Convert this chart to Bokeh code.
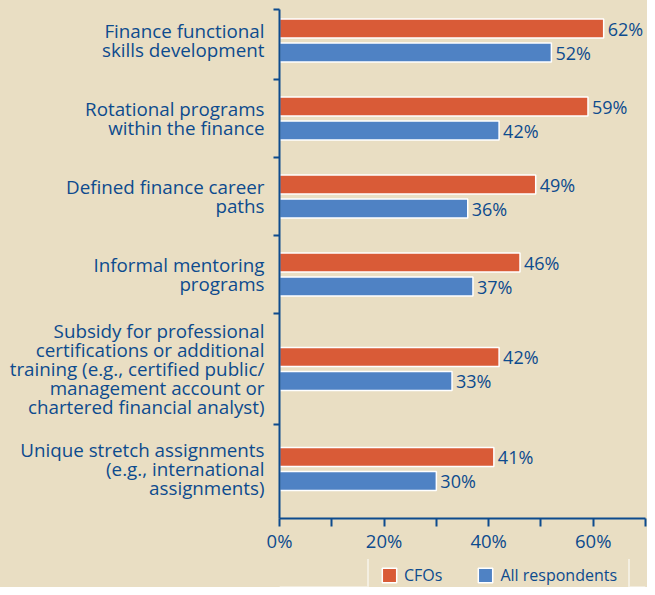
from bokeh.plotting import figure
from bokeh.models import (ColumnDataSource, Range1d, FixedTicker, LabelSet,
                          Legend, LegendItem)
from bokeh.layouts import column
from bokeh.core.properties import value
from bokeh.embed import file_html
from bokeh.resources import INLINE

# ---- data ----
categories = [
    "Finance functional\nskills development",
    "Rotational programs\nwithin the finance",
    "Defined finance career\npaths",
    "Informal mentoring\nprograms",
    "Subsidy for professional\ncertifications or additional\ntraining (e.g., certified public/\nmanagement account or\nchartered financial analyst)",
    "Unique stretch assignments\n(e.g., international\nassignments)",
]
cfo_values = [62, 59, 49, 46, 42, 41]
all_values = [52, 42, 36, 37, 33, 30]
x_ticks = [0, 20, 40, 60]
x_minor = [10, 30, 50, 70]
x_tick_labels = {0: "0%", 20: "20%", 40: "40%", 60: "60%"}
series_names = ["CFOs", "All respondents"]

# ---- style ----
BG = "#e9dec3"
ORANGE = "#d95b37"
BLUE = "#4f82c4"
TEXT = "#0d4b8e"
FONT = "Open Sans"

# ---- layout: row height grows with the number of label lines ----
lines = [c.count("\n") + 1 for c in categories]
row_h = [56 + 11 * n for n in lines]
tops = []
t = -8
for h in row_h:
    tops.append(t)
    t += h
centers = [tp + h / 2 for tp, h in zip(tops, row_h)]
BAR_OFF = 12
BAR_H = 19
Y_BOTTOM = 509

cfo_src = ColumnDataSource(dict(
    y=[c - BAR_OFF for c in centers], v=cfo_values,
    lab=[f"{v}%" for v in cfo_values]))
all_src = ColumnDataSource(dict(
    y=[c + BAR_OFF for c in centers], v=all_values,
    lab=[f"{v}%" for v in all_values]))

p = figure(width=647, height=559, output_backend="svg", toolbar_location=None,
           x_range=Range1d(0, 70), y_range=Range1d(Y_BOTTOM, 0),
           min_border_left=279, min_border_right=2, min_border_top=9,
           min_border_bottom=41, styles={"background-color": BG})
p.background_fill_color = BG
p.border_fill_color = BG
p.outline_line_color = None
p.grid.visible = False

r_cfo = p.hbar(y="y", right="v", left=0, height=BAR_H, source=cfo_src,
               fill_color=ORANGE, line_color="white", line_width=1.5)
r_all = p.hbar(y="y", right="v", left=0, height=BAR_H, source=all_src,
               fill_color=BLUE, line_color="white", line_width=1.5)

for src in (cfo_src, all_src):
    p.add_layout(LabelSet(x="v", y="y", text="lab", source=src, x_offset=4,
                          text_baseline="middle", text_align="left",
                          text_font=value(FONT), text_font_size="18px",
                          text_color=TEXT))

# x axis
xa = p.xaxis[0]
xa.ticker = FixedTicker(ticks=x_ticks, minor_ticks=x_minor)
xa.major_label_overrides = x_tick_labels
xa.axis_line_color = TEXT
xa.axis_line_width = 2
xa.major_tick_line_color = TEXT
xa.minor_tick_line_color = TEXT
xa.major_tick_line_width = 2
xa.minor_tick_line_width = 2
xa.major_tick_in = 0
xa.major_tick_out = 8
xa.minor_tick_in = 0
xa.minor_tick_out = 8
xa.major_label_standoff = 1
xa.major_label_text_font = FONT
xa.major_label_text_font_size = "18.5px"
xa.major_label_text_color = TEXT

# y axis: category labels at group centres, separators as minor ticks
ya = p.yaxis[0]
ya.ticker = FixedTicker(ticks=centers, minor_ticks=[max(tp, 0) for tp in tops])
ya.major_label_overrides = {c: lab for c, lab in zip(centers, categories)}
ya.axis_line_color = TEXT
ya.axis_line_width = 2
ya.major_tick_line_color = None
ya.major_tick_in = 0
ya.major_tick_out = 0
ya.minor_tick_line_color = TEXT
ya.minor_tick_line_width = 2
ya.minor_tick_in = 0
ya.minor_tick_out = 6
ya.major_label_standoff = 9
ya.major_label_text_font = FONT
ya.major_label_text_font_size = "18.8px"
ya.major_label_text_line_height = 0.73
ya.major_label_text_color = TEXT

# legend strip below the chart
lg = figure(width=647, height=28, output_backend="svg", toolbar_location=None,
            x_range=Range1d(0, 1), y_range=Range1d(0, 1),
            x_axis_type=None, y_axis_type=None,
            min_border_left=279, min_border_right=2, min_border_top=0,
            min_border_bottom=0, styles={"background-color": BG})
lg.background_fill_color = BG
lg.border_fill_color = BG
lg.outline_line_color = None
lg.grid.visible = False
# swatch-only renderers, kept outside the visible range
e_cfo = lg.hbar(y=[-5], right=[1], left=0, height=1, fill_color=ORANGE,
                line_color="white", line_width=1.5)
e_all = lg.hbar(y=[-5], right=[1], left=0, height=1, fill_color=BLUE,
                line_color="white", line_width=1.5)
legend = Legend(items=[LegendItem(label=series_names[0], renderers=[e_cfo]),
                       LegendItem(label=series_names[1], renderers=[e_all])],
                orientation="horizontal", location=(88, -12),
                background_fill_color=BG, background_fill_alpha=1,
                border_line_color="white", border_line_width=2,
                label_text_font=FONT, label_text_font_size="16px",
                label_text_color=TEXT, glyph_width=18, glyph_height=18,
                label_height=18, label_standoff=6, spacing=34, padding=11,
                margin=0)
lg.add_layout(legend, "center")

open("out.html", "w").write(file_html(
    column(p, lg, spacing=0, styles={"background-color": BG}), INLINE))
